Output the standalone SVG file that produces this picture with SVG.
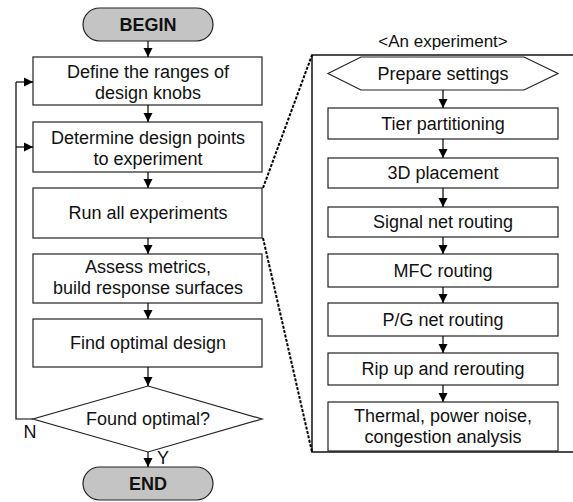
<svg xmlns="http://www.w3.org/2000/svg" width="573" height="502" viewBox="0 0 573 502">
  <defs>
    <marker id="arrow" markerWidth="10" markerHeight="10" refX="9" refY="5" orient="auto" markerUnits="userSpaceOnUse">
      <path d="M0,0.5 L9,5 L0,9.5 Z" fill="#000"/>
    </marker>
    <style>
      .box { fill: #fff; stroke: #222; stroke-width: 1.2; }
      .term { fill: #c4c4c4; stroke: #222; stroke-width: 1.2; }
      .lbl { font-family: "Liberation Sans", Arial, sans-serif; font-size: 18px; fill: #111; text-anchor: middle; }
      .bold { font-weight: bold; }
      .small { font-size: 17px; }
      .link { fill: none; stroke: #000; stroke-width: 1.2; marker-end: url(#arrow); }
      .line { fill: none; stroke: #000; stroke-width: 1.2; }
      .frame { fill: none; stroke: #111; stroke-width: 1.5; }
      .dash { fill: none; stroke: #000; stroke-width: 2; stroke-dasharray: 3 1.5; }
    </style>
  </defs>

  <!-- main flow -->
  <g id="begin">
    <rect class="term" x="83" y="8" width="130" height="33" rx="16.5"/>
    <text class="lbl bold" x="148" y="31">BEGIN</text>
  </g>
  <g id="define-ranges">
    <rect class="box" x="33" y="57" width="229" height="48"/>
    <text class="lbl" x="148" y="78">Define the ranges of</text>
    <text class="lbl" x="148" y="99">design knobs</text>
  </g>
  <g id="design-points">
    <rect class="box" x="33" y="122" width="229" height="50"/>
    <text class="lbl" x="148" y="144">Determine design points</text>
    <text class="lbl" x="148" y="165">to experiment</text>
  </g>
  <g id="run-experiments">
    <rect class="box" x="33" y="188" width="229" height="50"/>
    <text class="lbl" x="148" y="219">Run all experiments</text>
  </g>
  <g id="assess-metrics">
    <rect class="box" x="33" y="254" width="229" height="49"/>
    <text class="lbl" x="148" y="273">Assess metrics,</text>
    <text class="lbl" x="148" y="294">build response surfaces</text>
  </g>
  <g id="find-optimal">
    <rect class="box" x="33" y="319" width="229" height="48"/>
    <text class="lbl" x="148" y="349">Find optimal design</text>
  </g>
  <g id="found-optimal">
    <polygon class="box" points="148,386 262,419 148,452 33,419"/>
    <text class="lbl" x="148" y="425">Found optimal?</text>
  </g>
  <g id="end">
    <rect class="term" x="83" y="467" width="130" height="33" rx="16.5"/>
    <text class="lbl bold" x="148" y="490">END</text>
  </g>

  <!-- experiment detail panel -->
  <g id="experiment-panel">
    <text class="lbl small" x="443" y="47">&lt;An experiment&gt;</text>
    <path class="frame" d="M573,55 H312 V452 H573"/>
  </g>
  <g id="prepare-settings">
    <polygon class="box" points="328,73.5 361,57 524,57 558,73.5 524,90 361,90"/>
    <text class="lbl" x="443" y="80">Prepare settings</text>
  </g>
  <g id="tier-partitioning">
    <rect class="box" x="328" y="108" width="230" height="31"/>
    <text class="lbl" x="443" y="130">Tier partitioning</text>
  </g>
  <g id="placement-3d">
    <rect class="box" x="328" y="158" width="230" height="30"/>
    <text class="lbl" x="443" y="179">3D placement</text>
  </g>
  <g id="signal-routing">
    <rect class="box" x="328" y="207" width="230" height="30"/>
    <text class="lbl" x="443" y="228">Signal net routing</text>
  </g>
  <g id="mfc-routing">
    <rect class="box" x="328" y="254" width="230" height="33"/>
    <text class="lbl" x="443" y="277">MFC routing</text>
  </g>
  <g id="pg-routing">
    <rect class="box" x="328" y="303" width="230" height="33"/>
    <text class="lbl" x="443" y="326">P/G net routing</text>
  </g>
  <g id="rip-up">
    <rect class="box" x="328" y="353" width="230" height="32"/>
    <text class="lbl" x="443" y="375">Rip up and rerouting</text>
  </g>
  <g id="analysis">
    <rect class="box" x="328" y="402" width="230" height="49"/>
    <text class="lbl" x="443" y="422">Thermal, power noise,</text>
    <text class="lbl" x="443" y="443">congestion analysis</text>
  </g>

  <!-- connectors -->
  <g id="connectors">
    <line class="link" x1="148" y1="41" x2="148" y2="57"/>
    <line class="link" x1="148" y1="105" x2="148" y2="122"/>
    <line class="link" x1="148" y1="172" x2="148" y2="188"/>
    <line class="link" x1="148" y1="238" x2="148" y2="254"/>
    <line class="link" x1="148" y1="303" x2="148" y2="319"/>
    <line class="link" x1="148" y1="367" x2="148" y2="386"/>
    <line class="link" x1="148" y1="452" x2="148" y2="467"/>

    <!-- N loop back -->
    <polyline class="line" points="33,419 16,419 16,82"/>
    <line class="link" x1="16" y1="82" x2="33" y2="82"/>
    <line class="link" x1="16" y1="147" x2="33" y2="147"/>
    <text class="lbl" x="30" y="438">N</text>
    <text class="lbl" x="163" y="464">Y</text>

    <!-- experiment steps -->
    <line class="link" x1="443" y1="90" x2="443" y2="108"/>
    <line class="link" x1="443" y1="139" x2="443" y2="158"/>
    <line class="link" x1="443" y1="188" x2="443" y2="207"/>
    <line class="link" x1="443" y1="237" x2="443" y2="254"/>
    <line class="link" x1="443" y1="287" x2="443" y2="303"/>
    <line class="link" x1="443" y1="336" x2="443" y2="353"/>
    <line class="link" x1="443" y1="385" x2="443" y2="402"/>

    <!-- zoom lines to the panel -->
    <line class="dash" x1="263" y1="188" x2="312" y2="55"/>
    <line class="dash" x1="263" y1="238" x2="312" y2="452"/>
  </g>
</svg>
